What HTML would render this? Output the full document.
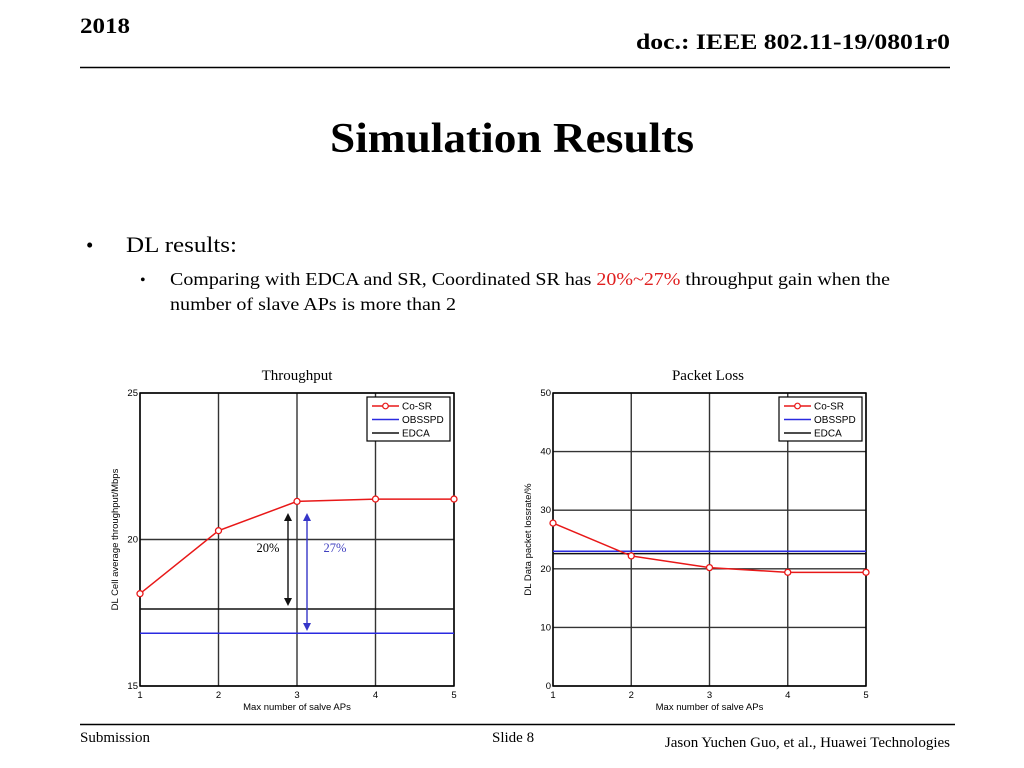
<!DOCTYPE html>
<html><head><meta charset="utf-8"><style>
html,body{margin:0;padding:0;background:#fff;}
svg{display:block;}
text{font-family:"Liberation Serif",serif;}
.sans{font-family:"Liberation Sans",sans-serif;}
</style></head><body>
<svg id="s" width="1024" height="768" viewBox="0 0 1024 768">
<text x="80" y="33" font-size="22" font-weight="bold" textLength="50" lengthAdjust="spacingAndGlyphs">2018</text>
<text x="950" y="49" font-size="22" font-weight="bold" text-anchor="end" textLength="314" lengthAdjust="spacingAndGlyphs">doc.: IEEE 802.11-19/0801r0</text>
<line x1="80" y1="67.5" x2="950" y2="67.5" stroke="#000" stroke-width="1.5"/>
<text x="512" y="152" font-size="42" font-weight="bold" text-anchor="middle" textLength="364" lengthAdjust="spacingAndGlyphs">Simulation Results</text>
<text x="86" y="252" font-size="21">•</text>
<text x="126" y="252" font-size="22" textLength="111" lengthAdjust="spacingAndGlyphs">DL results:</text>
<text x="140" y="285" font-size="16">•</text>
<text x="170" y="285" font-size="18" textLength="720" lengthAdjust="spacingAndGlyphs">Comparing with EDCA and SR, Coordinated SR has <tspan fill="#e02020">20%~27%</tspan> throughput gain when the</text>
<text x="170" y="310" font-size="18" textLength="286" lengthAdjust="spacingAndGlyphs">number of slave APs is more than 2</text>
<line x1="80" y1="724.5" x2="955" y2="724.5" stroke="#000" stroke-width="1.5"/>
<text x="80" y="742" font-size="15">Submission</text>
<text x="492" y="742" font-size="15">Slide 8</text>
<text x="950" y="747" font-size="15" text-anchor="end">Jason Yuchen Guo, et al., Huawei Technologies</text>
<g id="c1"></g>
<g id="c2"></g>
</svg>
<script>
const categories = [1, 2, 3, 4, 5];
const tputCoSR = [18.15, 20.3, 21.3, 21.38, 21.38];
const tputOBSSPD = 16.8;
const tputEDCA = 17.63;
const tputTicks = [15, 20, 25];
const lossCoSR = [27.8, 22.2, 20.2, 19.4, 19.4];
const lossOBSSPD = 23.0;
const lossEDCA = 22.6;
const lossTicks = [0, 10, 20, 30, 40, 50];

const NS = "http://www.w3.org/2000/svg";
function mk(parent, tag, attrs, txt) {
  const e = document.createElementNS(NS, tag);
  for (const k in attrs) e.setAttribute(k, attrs[k]);
  if (txt !== undefined) e.textContent = txt;
  parent.appendChild(e);
  return e;
}
function chart(g, x0, x1, y0, y1, ymin, ymax, ticks, co, obss, edca, title, titleX, ylabel) {
  const sx = v => x0 + (v - 1) / 4 * (x1 - x0);
  const sy = v => y1 - (v - ymin) / (ymax - ymin) * (y1 - y0);
  const t = mk(g, "text", {x: titleX, y: y0 - 13, "font-size": 15, "text-anchor": "middle"}, title);
  
  
  categories.forEach(c => {
    const l = mk(g, "line", {x1: sx(c), x2: sx(c), y1: y0, y2: y1, stroke: "#333", "stroke-width": 1.4});
    
    
    const tx = mk(g, "text", {x: sx(c), y: y1 + 12, "font-size": 9.5, "text-anchor": "middle", class: "sans"}, c);
    
    
  });
  ticks.forEach(v => {
    const l = mk(g, "line", {x1: x0, x2: x1, y1: sy(v), y2: sy(v), stroke: "#333", "stroke-width": 1.4});
    
    
    const tx = mk(g, "text", {x: x0 - 2, y: sy(v) + 3, "font-size": 9.5, "text-anchor": "end", class: "sans"}, v);
    
    
  });
  const f = mk(g, "rect", {x: x0, y: y0, width: x1 - x0, height: y1 - y0, fill: "none", stroke: "#000", "stroke-width": 1.5});
  
  
  const xl = mk(g, "text", {x: (x0 + x1) / 2, y: y1 + 24, "font-size": 9.5, "text-anchor": "middle", class: "sans"}, "Max number of salve APs");
  
  
  const yc = (y0 + y1) / 2;
  const yl = mk(g, "text", {x: x0 - 22, y: yc, "font-size": 9.5, "text-anchor": "middle", class: "sans", transform: `rotate(-90 ${x0 - 22} ${yc})`}, ylabel);
  
  
  const ob = mk(g, "line", {x1: x0, x2: x1, y1: sy(obss), y2: sy(obss), stroke: "#2a2ae0", "stroke-width": 1.5});
  
  
  const ed = mk(g, "line", {x1: x0, x2: x1, y1: sy(edca), y2: sy(edca), stroke: "#111", "stroke-width": 1.5});
  
  
  const pl = mk(g, "polyline", {points: co.map((v, i) => sx(categories[i]) + "," + sy(v)).join(" "), fill: "none", stroke: "#e81818", "stroke-width": 1.5});
  
  
  co.forEach((v, i) => {
    const c = mk(g, "circle", {cx: sx(categories[i]), cy: sy(v), r: 3, fill: "#fff", stroke: "#e81818", "stroke-width": 1.3});
    
    
  });
  const lx = x1 - 87, ly = y0 + 4;
  const lg = mk(g, "g", {});
  
  
  mk(lg, "rect", {x: lx, y: ly, width: 83, height: 44, fill: "#fff", stroke: "#000", "stroke-width": 1.2});
  const ent = [["Co-SR", "#e81818"], ["OBSSPD", "#2a2ae0"], ["EDCA", "#111"]];
  ent.forEach((e, i) => {
    const yy = ly + 9 + i * 13.5;
    const eg = mk(lg, "g", {});
    
    
    mk(eg, "line", {x1: lx + 5, x2: lx + 32, y1: yy, y2: yy, stroke: e[1], "stroke-width": 1.4});
    if (i === 0) mk(eg, "circle", {cx: lx + 18.5, cy: yy, r: 2.8, fill: "#fff", stroke: e[1], "stroke-width": 1.2});
    mk(eg, "text", {x: lx + 35, y: yy + 3.5, "font-size": 10, class: "sans"}, e[0]);
  });
  return {sx, sy};
}
chart(document.getElementById("c1"), 140, 454, 393, 686, 15, 25, tputTicks, tputCoSR, tputOBSSPD, tputEDCA, "Throughput", 297, "DL Cell average throughput/Mbps");
chart(document.getElementById("c2"), 553, 866, 393, 686, 0, 50, lossTicks, lossCoSR, lossOBSSPD, lossEDCA, "Packet Loss", 708, "DL Data packet lossrate/%");
const g1 = document.getElementById("c1");
function arrow(x, yTop, yBot, col, name) {
  const ag = mk(g1, "g", {});
  
  
  mk(ag, "line", {x1: x, x2: x, y1: yTop + 6, y2: yBot - 6, stroke: col, "stroke-width": 1.4});
  mk(ag, "polygon", {points: `${x - 4},${yTop + 8} ${x + 4},${yTop + 8} ${x},${yTop}`, fill: col});
  mk(ag, "polygon", {points: `${x - 4},${yBot - 8} ${x + 4},${yBot - 8} ${x},${yBot}`, fill: col});
}
arrow(288, 513, 606, "#111", "gain-arrow-edca");
arrow(307, 513, 631, "#3535c8", "gain-arrow-obsspd");
const t20 = mk(g1, "text", {x: 268, y: 552, "font-size": 12.5, "text-anchor": "middle"}, "20%");


const t27 = mk(g1, "text", {x: 335, y: 552, "font-size": 12.5, "text-anchor": "middle", fill: "#4040c0"}, "27%");


</script>
</body></html>
